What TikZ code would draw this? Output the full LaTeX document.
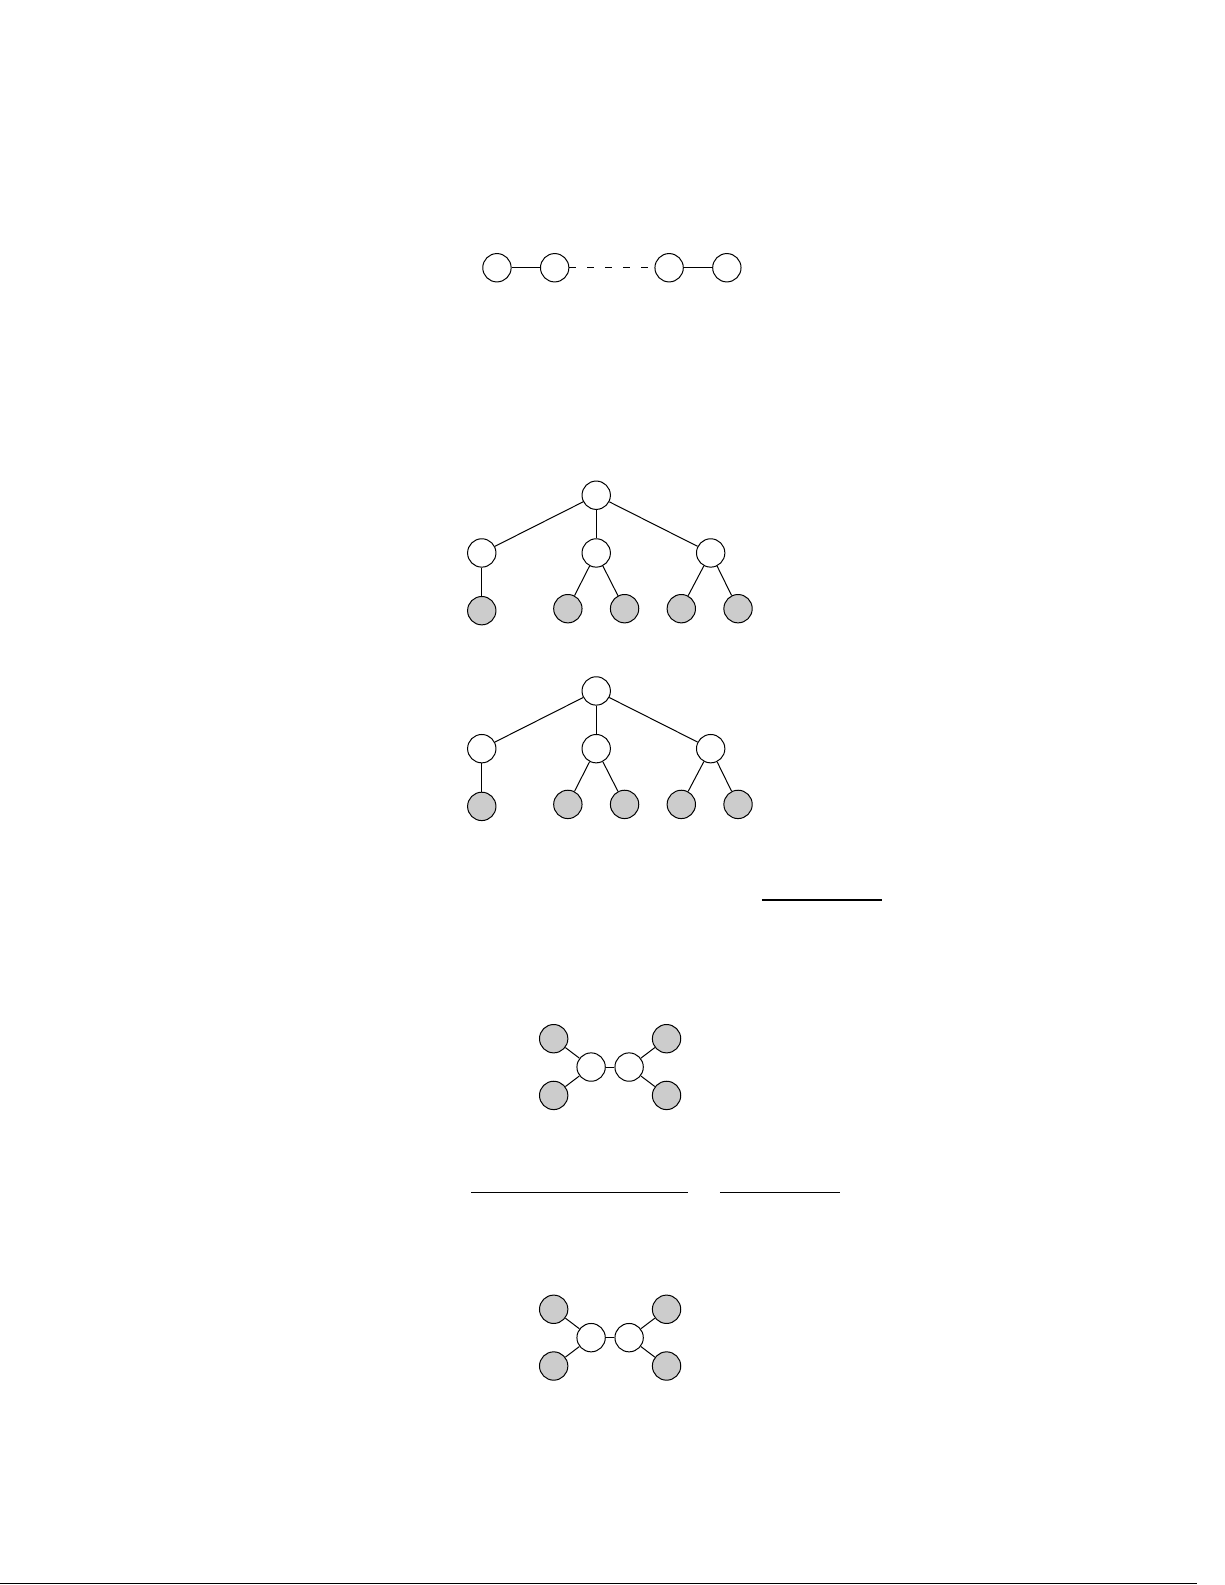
\documentclass[tikz,border=0pt]{standalone}
\usepackage{tikz}
\usetikzlibrary{positioning}

\begin{document}
\begin{tikzpicture}[
    node distance = 0.5cm,
    vertex/.style = {circle, draw, line width=0.5pt, minimum size=0.5cm, inner sep=0pt},
    leaf/.style = {vertex, fill=black!20},
    edge/.style = {line width=0.5pt},
    bar/.style = {line width=0.8pt}
]

\useasboundingbox (0, 0) rectangle (21.59, 27.94);

% chain
\node[vertex] (chain-1) at (8.76, 23.22) {};
\node[vertex, right = of chain-1] (chain-2) {};
\node[vertex, right = 1.5cm of chain-2] (chain-3) {};
\node[vertex, right = of chain-3] (chain-4) {};

\draw[edge] (chain-1) -- (chain-2);
\draw[edge, dash pattern=on 3.5pt off 5.5pt] (chain-2) -- (chain-3);
\draw[edge] (chain-3) -- (chain-4);

% trees
\foreach \t/\y in {1/19.21, 2/15.76} {
    \node[vertex] (root-\t) at (10.51, \y) {};
    \node[vertex, below = of root-\t] (child-\t-2) {};
    \node[vertex, left = 1.5cm of child-\t-2] (child-\t-1) {};
    \node[vertex, right = 1.5cm of child-\t-2] (child-\t-3) {};

    \node[leaf, below = of child-\t-1] (leaf-\t-1) {};
    \node[leaf] (leaf-\t-2) at (10.01, {\y-2}) {};
    \node[leaf] (leaf-\t-3) at (11.01, {\y-2}) {};
    \node[leaf] (leaf-\t-4) at (12.01, {\y-2}) {};
    \node[leaf] (leaf-\t-5) at (13.01, {\y-2}) {};

    % connect the root with the children
    \foreach \c in {1, 2, 3} {
        \draw[edge] (root-\t) -- (child-\t-\c);
    }

    % connect the children with the leaves
    \draw[edge] (child-\t-1) -- (leaf-\t-1);
    \draw[edge] (child-\t-2) -- (leaf-\t-2);
    \draw[edge] (child-\t-2) -- (leaf-\t-3);
    \draw[edge] (child-\t-3) -- (leaf-\t-4);
    \draw[edge] (child-\t-3) -- (leaf-\t-5);
}

% bars
\coordinate (bar-1-l) at (13.43, 12.07);
\coordinate (bar-1-r) at (15.55, 12.07);
\coordinate (bar-2-l) at (8.31, 6.92);
\coordinate (bar-2-r) at (12.13, 6.92);
\coordinate (bar-3-l) at (12.69, 6.92);
\coordinate (bar-3-r) at (14.81, 6.92);

\foreach \b in {1, 2, 3} {
    \draw[bar] (bar-\b-l) -- (bar-\b-r);
}

% butterflies
\foreach \b/\y in {1/9.13, 2/4.36} {
    \node[vertex] (core-\b-1) at (10.42, \y) {};
    \node[vertex] (core-\b-2) at (11.09, \y) {};

    \node[leaf] (arm-\b-1) at (9.76, {\y+0.5}) {};
    \node[leaf] (arm-\b-2) at (9.76, {\y-0.5}) {};
    \node[leaf] (arm-\b-3) at (11.75, {\y+0.5}) {};
    \node[leaf] (arm-\b-4) at (11.75, {\y-0.5}) {};

    \draw[edge] (core-\b-1) -- (core-\b-2);
    \draw[edge] (core-\b-1) -- (arm-\b-1);
    \draw[edge] (core-\b-1) -- (arm-\b-2);
    \draw[edge] (core-\b-2) -- (arm-\b-3);
    \draw[edge] (core-\b-2) -- (arm-\b-4);
}

% page rule
\coordinate (rule-l) at (0, 0.03);
\coordinate (rule-r) at (21.1, 0.03);
\draw[bar] (rule-l) -- (rule-r);

\end{tikzpicture}
\end{document}
